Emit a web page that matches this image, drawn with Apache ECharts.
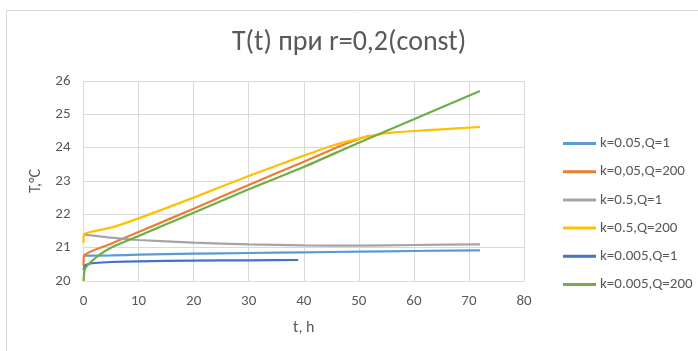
<!DOCTYPE html>
<html>
<head>
<meta charset="utf-8">
<script src="https://cdn.jsdelivr.net/npm/echarts@6/dist/echarts.min.js"></script>
<style>
  html, body { margin: 0; padding: 0; background: #fff; }
  #chart { width: 698px; height: 351px; }
</style>
</head>
<body>
<div id="chart"></div>
<script>
// Temperature vs time for several (k, Q) parameter sets, r = 0.2
const seriesNames = [
  'k=0.05,Q=1',
  'k=0,05,Q=200',
  'k=0.5,Q=1',
  'k=0.5,Q=200',
  'k=0.005,Q=1',
  'k=0.005,Q=200'
];
const seriesColors = ['#5B9BD5', '#ED7D31', '#A5A5A5', '#FFC000', '#4472C4', '#70AD47'];

// time, h
const tK005Q1   = [0, 5, 10, 20, 30, 40, 50, 60, 72];
const tK005Q200 = [0, 0.1, 5, 10, 20, 30, 40, 46.5, 50, 52];
const tK05Q1    = [0, 5, 10, 20, 30, 40, 50, 60, 72];
const tK05Q200  = [0, 0.1, 5, 10, 20, 30, 40, 45, 50, 53.4, 56, 60, 65, 72];
const tK0005Q1  = [0, 0.3, 1, 2, 5, 10, 20, 30, 39];
const tK0005Q200 = [0, 0.2, 0.5, 1.4, 3, 5, 10, 20, 30, 40, 50, 60, 72];

// temperature, °C
const vK005Q1   = [20.76, 20.77, 20.79, 20.82, 20.84, 20.86, 20.88, 20.90, 20.92];
const vK005Q200 = [20.45, 20.76, 21.12, 21.47, 22.17, 22.88, 23.58, 24.04, 24.26, 24.36];
const vK05Q1    = [21.40, 21.30, 21.23, 21.15, 21.10, 21.07, 21.06, 21.08, 21.10];
const vK05Q200  = [21.14, 21.40, 21.60, 21.88, 22.50, 23.15, 23.76, 24.05, 24.27, 24.39, 24.45, 24.50, 24.55, 24.62];
const vK0005Q1  = [20.33, 20.47, 20.51, 20.54, 20.57, 20.59, 20.61, 20.62, 20.63];
const vK0005Q200 = [20.00, 20.34, 20.43, 20.58, 20.80, 21.00, 21.35, 22.05, 22.75, 23.42, 24.15, 24.85, 25.70];

const xTicks = { min: 0, max: 80, interval: 10 };
const yTicks = { min: 20, max: 26, interval: 1 };

const times = [tK005Q1, tK005Q200, tK05Q1, tK05Q200, tK0005Q1, tK0005Q200];
const values = [vK005Q1, vK005Q200, vK05Q1, vK05Q200, vK0005Q1, vK0005Q200];

const font = 'Carlito, "Open Sans", sans-serif';
const textGray = '#595959';
const gridGray = '#D9D9D9';

const series = seriesNames.map((name, i) => ({
  name: name,
  type: 'line',
  data: times[i].map((t, j) => [t, values[i][j]]),
  smooth: 0.2,
  symbol: 'none',
  showSymbol: false,
  lineStyle: { width: 2.25, color: seriesColors[i] },
  itemStyle: { color: seriesColors[i] },
  z: 2 + i
}));

const chart = echarts.init(document.getElementById('chart'), null, { renderer: 'canvas' });
chart.setOption({
  animation: false,
  backgroundColor: '#fff',
  graphic: [{
    type: 'rect',
    shape: { x: 6.5, y: 10.5, width: 760, height: 400 },
    style: { fill: 'none', stroke: gridGray, lineWidth: 1 },
    silent: true
  }],
  title: {
    text: 'T(t) при r=0,2(const)',
    left: 'center',
    top: 24,
    textStyle: { fontFamily: font, fontSize: 28, fontWeight: 'normal', color: textGray }
  },
  legend: {
    orient: 'vertical',
    left: 558,
    top: 131,
    icon: 'rect',
    itemWidth: 33,
    itemHeight: 3,
    itemGap: 13.2,
    textStyle: { fontFamily: font, fontSize: 15, color: textGray, lineHeight: 15, padding: [0, 0, 0, -1] },
    data: seriesNames
  },
  grid: { left: 83.5, right: 174, top: 81, bottom: 70 },
  xAxis: {
    type: 'value',
    min: xTicks.min, max: xTicks.max, interval: xTicks.interval,
    name: 't, h',
    nameLocation: 'middle',
    nameGap: 39,
    nameTextStyle: { fontFamily: font, fontSize: 16, color: textGray },
    axisLine: { show: true, lineStyle: { color: gridGray, width: 1 } },
    axisTick: { show: false },
    axisLabel: { fontFamily: font, fontSize: 15, color: textGray, margin: 13 },
    splitLine: { show: true, lineStyle: { color: gridGray, width: 1 } }
  },
  yAxis: {
    type: 'value',
    min: yTicks.min, max: yTicks.max, interval: yTicks.interval,
    name: 'T,°C',
    nameLocation: 'middle',
    nameGap: 29,
    nameRotate: 90,
    nameTextStyle: { fontFamily: font, fontSize: 16, color: textGray },
    axisLine: { show: false },
    axisTick: { show: false },
    axisLabel: { fontFamily: font, fontSize: 15, color: textGray, margin: 13 },
    splitLine: { show: true, lineStyle: { color: gridGray, width: 1 } }
  },
  series: series
});
</script>
</body>
</html>
